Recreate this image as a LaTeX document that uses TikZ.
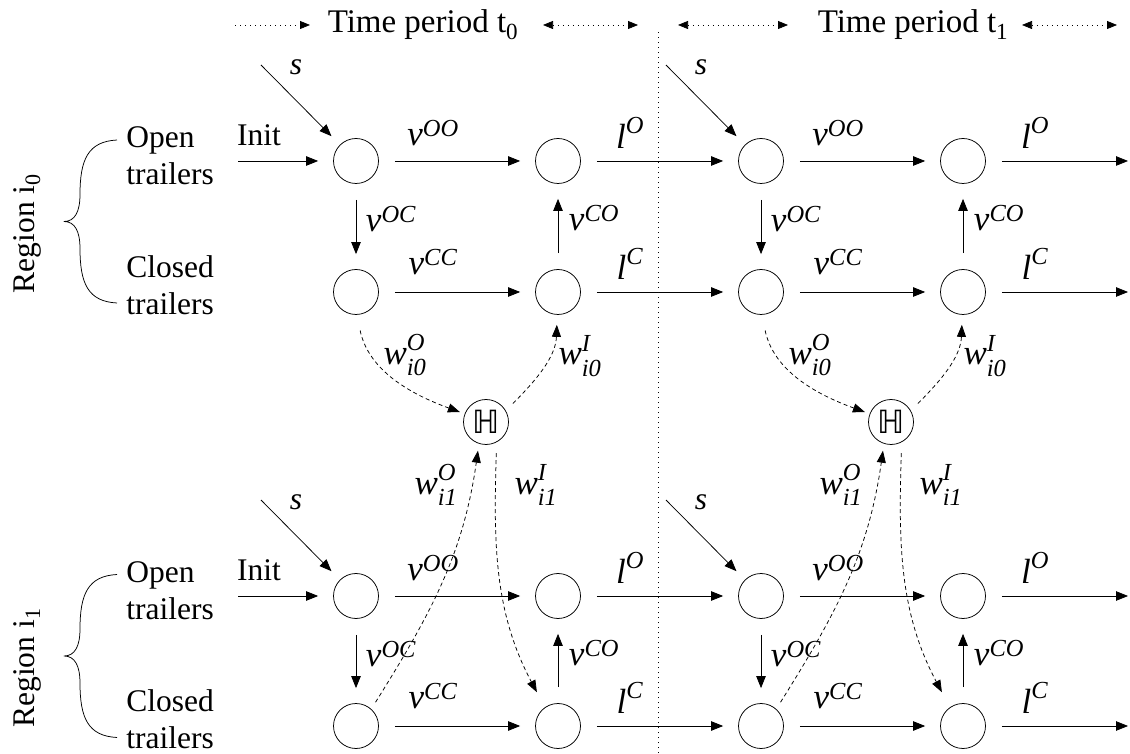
\documentclass[tikz,border=0pt]{standalone}
\usepackage{amsmath}
\usepackage{fontspec}
\setmainfont{Liberation Serif}
\newfontfamily\hubfont{DejaVu Sans}
\usetikzlibrary{arrows.meta}

\newcommand{\vlab}[2]{$\textit{#1}^{\textit{#2}}$}
\newcommand{\wlab}[2]{$\textit{w}^{\textit{#1}\vphantom{\textit{g}}}_{\textit{#2}}$}

\begin{document}
\begin{tikzpicture}[x=1pt, y=1pt, line width=0.75pt, line join=round,
	every node/.style={font=\fontsize{31.5}{37}\selectfont, inner sep=0pt},
	lab/.style={font=\fontsize{35}{40}\selectfont},
	st/.style={circle, draw, minimum size=45pt},
	hub/.style={circle, draw, minimum size=45pt, font=\hubfont\fontsize{32}{36}\selectfont},
	flow/.style={-{Triangle[length=12pt, width=9.5pt]}, shorten <=16pt, shorten >=15pt},
	xfer/.style={dash pattern=on 4pt off 3pt, -{Triangle[length=12pt, width=9pt]}},
	span/.style={dash pattern=on 1pt off 4pt}]
	
	\useasboundingbox (0,0) rectangle (1130,753);
	
	\node[anchor=base, font=\fontsize{33}{38}\selectfont] (tp0) at (423,720) {Time period t\textsubscript{0}};
	\node[anchor=base, font=\fontsize{33}{38}\selectfont] (tp1) at (913,720) {Time period t\textsubscript{1}};
	\draw[span, -{Triangle[length=10pt, width=8pt]}] (235,728) -- (310,728);
	\foreach \a/\b in {543/638, 678/788, 1022/1117} {
		\draw[span, {Triangle[length=10pt, width=8pt]}-{Triangle[length=10pt, width=8pt]}] (\a,728) -- (\b,728);
	}
	\draw[span] (658,0) -- (658,723);
	
	\foreach \t/\xa/\xb/\xh in {0/356/558/486, 1/761/963/891} {
		\node[hub] (h\t) at (\xh,331) {ℍ};
		\foreach \r/\yo/\yc in {0/592/461, 1/157/27} {
			\node[st] (oa\r\t) at (\xa,\yo) {};
			\node[st] (ob\r\t) at (\xb,\yo) {};
			\node[st] (ca\r\t) at (\xa,\yc) {};
			\node[st] (cb\r\t) at (\xb,\yc) {};
			
			\coordinate (s\r\t) at (\xa-95,\yo+96);
			\draw[flow, shorten <=0pt, shorten >=12pt] (s\r\t) -- (oa\r\t);
			\node (sl\r\t) at (\xa-60,\yo+94) {\textit{s}};
			
			\draw[flow] (oa\r\t) -- (ob\r\t);
			\draw[flow] (ca\r\t) -- (cb\r\t);
			\draw[flow] (oa\r\t) -- (ca\r\t);
			\draw[flow] (cb\r\t) -- (ob\r\t);
			
			\node[lab] (voo\r\t) at (\xa+77,\yo+28) {\vlab{v}{OO}};
			\node[lab] (vcc\r\t) at (\xa+77,\yc+30) {\vlab{v}{CC}};
			\node[lab] (voc\r\t) at (\xa+35,\yo-58) {\vlab{v}{OC}};
			\node[lab] (vco\r\t) at (\xb+36,\yo-57) {\vlab{v}{CO}};
			\node[lab] (lo\r\t) at (\xb+72,\yo+28) {\vlab{l}{O}};
			\node[lab] (lc\r\t) at (\xb+72,\yc+28) {\vlab{l}{C}};
		}
		
		\draw[xfer, shorten <=16pt, shorten >=5pt] (ca0\t.-88) to[out=-78, in=160] (h\t.159);
		\draw[xfer, shorten <=10pt, shorten >=10pt] (h\t.30) to[out=45, in=-92] (cb0\t.-92);
		\draw[xfer, shorten <=8pt, shorten >=7pt] (ca1\t.48) to[out=58, in=-98] (h\t.-108);
		\draw[xfer, shorten <=11pt, shorten >=17pt] (h\t.-62) to[out=-92, in=118] (cb1\t.125);
		
		\node[lab] (wo0\t) at (\xh-81,398) {\wlab{O}{i0}};
		\node[lab] (wi0\t) at (\xh+94,397) {\wlab{I}{i0}};
		\node[lab] (wo1\t) at (\xh-50,268) {\wlab{O}{i1}};
		\node[lab] (wi1\t) at (\xh+50,268) {\wlab{I}{i1}};
	}
	
	\foreach \r/\yo/\yc/\yb in {0/592/461/531.5, 1/157/27/97} {
		\coordinate (in\r) at (238,\yo);
		\draw[flow, shorten <=0pt] (in\r) -- (oa\r0);
		\node (il\r) at (259,\yo+26) {Init};
		
		\draw[flow] (ob\r0) -- (oa\r1);
		\draw[flow] (cb\r0) -- (ca\r1);
		\coordinate (oe\r) at (1128,\yo);
		\coordinate (ce\r) at (1128,\yc);
		\draw[flow, shorten >=0pt] (ob\r1) -- (oe\r);
		\draw[flow, shorten >=0pt] (cb\r1) -- (ce\r);
		
		\node[align=left, anchor=west] (ot\r) at (126,\yo+5) {Open\\trailers};
		\node[align=left, anchor=west] (ct\r) at (126,\yc+7) {Closed\\trailers};
		\draw (117,\yb+81.5) .. controls (88,\yb+80) and (80,\yb+62) .. (80,\yb+27)
			.. controls (80,\yb+10) and (75,\yb) .. (64,\yb)
			.. controls (75,\yb) and (80,\yb-10) .. (80,\yb-27)
			.. controls (80,\yb-62) and (88,\yb-80) .. (117,\yb-81.5);
		\node[rotate=90] (rg\r) at (27,\yb-12) {Region i\textsubscript{\r}};
	}
	
\end{tikzpicture}
\end{document}
